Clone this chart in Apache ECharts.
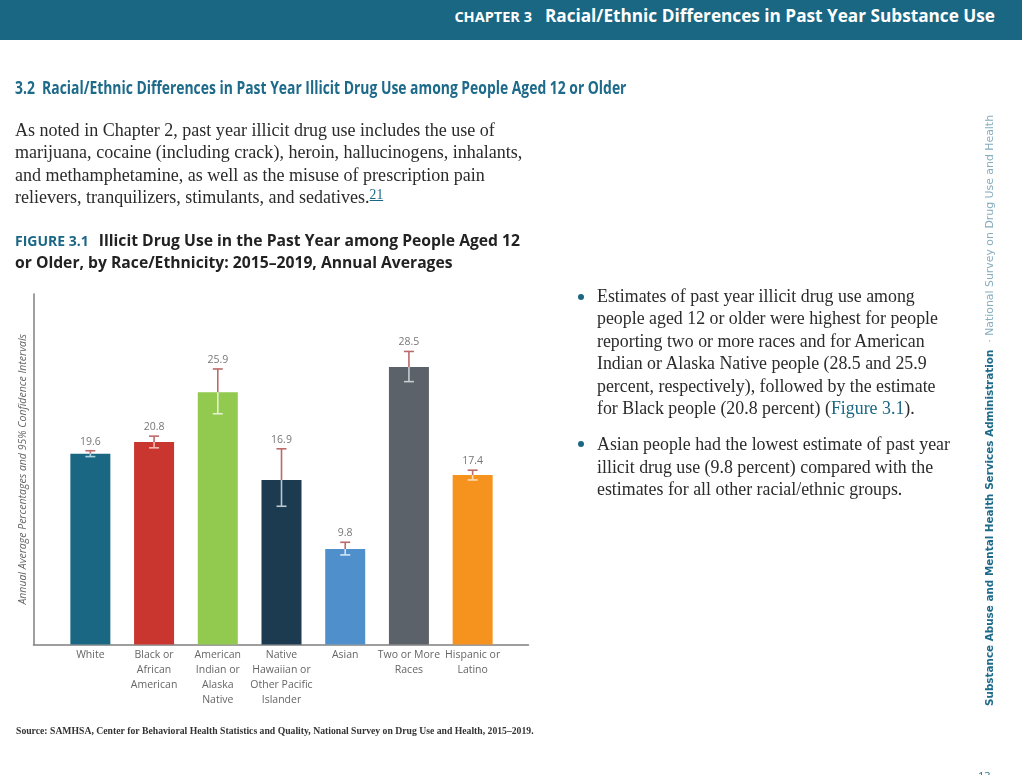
<!DOCTYPE html>
<html>
<head>
<meta charset="UTF-8">
<title>Figure 3.1</title>
<script src="https://cdn.jsdelivr.net/npm/echarts@6/dist/echarts.min.js"></script>
<style>
html,body{margin:0;padding:0;background:#fff;width:1022px;height:775px;overflow:hidden;}
#main{position:absolute;left:0;top:0;width:1022px;height:775px;}
#page{position:absolute;left:0;top:0;width:1022px;height:775px;pointer-events:none;}
#band{position:absolute;left:0;top:0;width:1022px;height:40px;background:#1a6784;}
.ln{position:absolute;white-space:nowrap;transform-origin:0 50%;}
.body{font-family:"Liberation Serif",serif;font-size:18.6px;line-height:22px;color:#2b2b2b;transform:scaleX(.97);}
.side{transform:scaleX(.96);}
.teal{color:#1a6784;}
.dot{position:absolute;width:6px;height:6px;border-radius:3px;background:#1a6784;left:578px;}
</style>
</head>
<body>
<div id="main"></div>
<div id="page">
	<div id="band"></div>
	<div class="ln" style="right:27px;top:4px;height:24px;line-height:24px;color:#fff;font:bold 17.2px 'Open Sans';">
		<span style="font-size:14.5px;margin-right:4px;">CHAPTER 3</span>&nbsp; Racial/Ethnic Differences in Past Year Substance Use
	</div>
	<div class="ln" id="h2" style="left:15px;top:75px;line-height:24px;color:#1d6a8a;font:bold 18px 'Open Sans';transform:scaleX(.772);">3.2&nbsp; Racial/Ethnic Differences in Past Year Illicit Drug Use among People Aged 12 or Older</div>

	<div class="ln body" style="left:15px;top:119px;">As noted in Chapter 2, past year illicit drug use includes the use of</div>
	<div class="ln body" style="left:15px;top:141px;">marijuana, cocaine (including crack), heroin, hallucinogens, inhalants,</div>
	<div class="ln body" style="left:15px;top:164px;">and methamphetamine, as well as the misuse of prescription pain</div>
	<div class="ln body" style="left:15px;top:186px;">relievers, tranquilizers, stimulants, and sedatives.<span class="teal" style="font-size:14px;line-height:0;vertical-align:4px;text-decoration:underline;">21</span></div>

	<div class="dot" style="top:294px;"></div>
	<div class="ln body side" style="left:597px;top:285px;">Estimates of past year illicit drug use among</div>
	<div class="ln body side" style="left:597px;top:307px;">people aged 12 or older were highest for people</div>
	<div class="ln body side" style="left:597px;top:330px;">reporting two or more races and for American</div>
	<div class="ln body side" style="left:597px;top:352px;">Indian or Alaska Native people (28.5 and 25.9</div>
	<div class="ln body side" style="left:597px;top:375px;">percent, respectively), followed by the estimate</div>
	<div class="ln body side" style="left:597px;top:397px;">for Black people (20.8 percent) (<span class="teal">Figure 3.1</span>).</div>
	<div class="dot" style="top:441px;"></div>
	<div class="ln body side" style="left:597px;top:433px;">Asian people had the lowest estimate of past year</div>
	<div class="ln body side" style="left:597px;top:456px;">illicit drug use (9.8 percent) compared with the</div>
	<div class="ln body side" style="left:597px;top:478px;">estimates for all other racial/ethnic groups.</div>

	<div class="ln" style="left:983px;top:706px;height:14px;line-height:14px;transform-origin:0 0;transform:rotate(-90deg);font:bold 10.4px 'DejaVu Sans';color:#1d6a8a;">Substance Abuse and Mental Health Services Administration<span style="font-weight:normal;font-size:10.9px;color:#86adbd;"> &nbsp;· National Survey on Drug Use and Health</span></div>
	<div class="ln" style="left:978px;top:768px;font:11px 'Open Sans';color:#1d6a8a;">13</div>
</div>
<script>
var categories = ['White', 'Black or\nAfrican\nAmerican', 'American\nIndian or\nAlaska\nNative', 'Native\nHawaiian or\nOther Pacific\nIslander', 'Asian', 'Two or More\nRaces', 'Hispanic or\nLatino'];
var estimates = [19.6, 20.8, 25.9, 16.9, 9.8, 28.5, 17.4];
var ciLow = [19.3, 20.2, 23.7, 14.2, 9.2, 27.0, 16.9];
var ciHigh = [19.9, 21.4, 28.3, 20.1, 10.5, 30.1, 17.9];

var barColors = ['#1a6784', '#c9352f', '#92c94f', '#1c3a50', '#4f8fcb', '#5c6269', '#f6921e'];
var lowerColors = ['#a9d3e0', '#f0b9b3', '#e3f1cf', '#b9c9d4', '#d5e6f5', '#c9ccd0', '#fbdcb5'];
var upperColor = '#bb6a6a';

var chart = echarts.init(document.getElementById('main'));

function renderCI(params, api) {
	var i = api.value(0);
	var top = api.coord([i, ciHigh[i]]);
	var mid = api.coord([i, estimates[i]]);
	var low = api.coord([i, ciLow[i]]);
	var cap = 5;
	function seg(x1, y1, x2, y2, color) {
		return {
			type: 'line',
			shape: {x1: x1, y1: y1, x2: x2, y2: y2},
			style: {stroke: color, lineWidth: 1.6}
		};
	}
	return {
		type: 'group',
		children: [
			seg(top[0], top[1], mid[0], mid[1], upperColor),
			seg(top[0] - cap, top[1], top[0] + cap, top[1], upperColor),
			seg(low[0], mid[1], low[0], low[1], lowerColors[i]),
			seg(low[0] - cap, low[1], low[0] + cap, low[1], lowerColors[i]),
			{
				type: 'text',
				style: {
					x: top[0],
					y: top[1] - 9,
					text: estimates[i].toFixed(1),
					align: 'center',
					verticalAlign: 'middle',
					fill: '#777',
					font: '10.5px "Open Sans"'
				}
			}
		]
	};
}

chart.setOption({
	animation: false,
	backgroundColor: '#fff',
	title: [
		{
			left: 15,
			top: 231,
			padding: 0,
			text: '{a|FIGURE 3.1}  {b|Illicit Drug Use in the Past Year among People Aged 12}\n{b|or Older, by Race/Ethnicity: 2015–2019, Annual Averages}',
			textStyle: {
				rich: {
					a: {fontFamily: 'Open Sans', fontWeight: 'bold', fontSize: 14, color: '#1a6784', lineHeight: 22},
					b: {fontFamily: 'Open Sans', fontWeight: 'bold', fontSize: 15.7, color: '#222', lineHeight: 22}
				}
			}
		},
		{
			left: 16,
			top: 725,
			padding: 0,
			text: 'Source: SAMHSA, Center for Behavioral Health Statistics and Quality, National Survey on Drug Use and Health, 2015–2019.',
			textStyle: {fontFamily: 'Liberation Serif', fontWeight: 'bold', fontSize: 9.7, color: '#333', lineHeight: 12}
		}
	],
	grid: [
		{left: 33.5, top: 294, width: 495, height: 350.5},
		{left: 58.5, top: 294, width: 446, height: 350.5}
	],
	xAxis: [
		{
			gridIndex: 0, type: 'value', min: 0, max: 1,
			axisLine: {show: true, lineStyle: {color: '#7f7f7f', width: 1.5}},
			axisTick: {show: false}, axisLabel: {show: false}, splitLine: {show: false}
		},
		{
			gridIndex: 1, type: 'category', data: categories,
			axisLine: {show: false},
			axisTick: {show: false},
			axisLabel: {
				interval: 0, margin: 3, color: '#666', lineHeight: 15,
				fontFamily: 'Open Sans', fontSize: 10.5, hideOverlap: false
			}
		}
	],
	yAxis: [
		{
			gridIndex: 0, type: 'value', min: 0, max: 36,
			name: 'Annual Average Percentages and 95% Confidence Intervals',
			nameLocation: 'middle', nameGap: 5,
			nameTextStyle: {color: '#666', fontFamily: 'Open Sans', fontStyle: 'italic', fontSize: 10.5},
			axisLine: {show: true, lineStyle: {color: '#7f7f7f', width: 1.5}},
			axisTick: {show: false}, axisLabel: {show: false}, splitLine: {show: false}
		},
		{
			gridIndex: 1, type: 'value', min: 0, max: 36, show: false, splitLine: {show: false}
		}
	],
	series: [
		{
			type: 'bar',
			xAxisIndex: 1,
			yAxisIndex: 1,
			barWidth: 40,
			data: estimates.map(function (v, i) {
				return {value: v, itemStyle: {color: barColors[i]}};
			})
		},
		{
			type: 'custom',
			xAxisIndex: 1,
			yAxisIndex: 1,
			z: 5,
			renderItem: renderCI,
			encode: {x: 0, y: 1},
			data: estimates.map(function (v, i) { return [i, v]; })
		}
	]
});
</script>
</body>
</html>
